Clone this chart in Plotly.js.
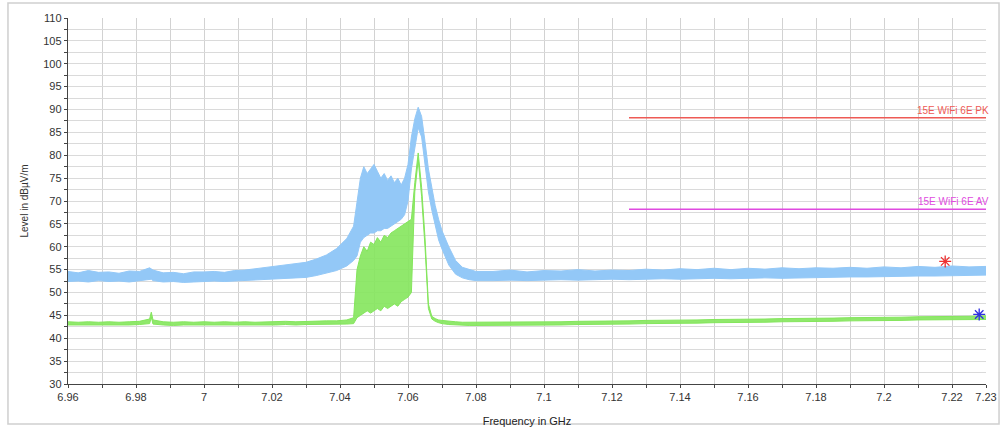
<!DOCTYPE html>
<html>
<head>
<meta charset="utf-8">
<script src="https://cdn.plot.ly/plotly-3.0.1.min.js"></script>
<style>
html,body{margin:0;padding:0;background:#fff;}
#chart{width:1002px;height:427px;}
</style>
</head>
<body>
<div id="chart"></div>
<script>
// Frequency points (GHz)
const freqGHz = [
  6.960, 6.963, 6.966, 6.969, 6.972, 6.975, 6.978, 6.981, 6.984, 6.9845, 6.985, 6.988, 6.991, 6.994, 6.997,
  7.000, 7.003, 7.006, 7.009, 7.012, 7.015, 7.018, 7.021, 7.024, 7.027, 7.030, 7.033, 7.036, 7.039, 7.042, 7.044,
  7.045, 7.046, 7.047, 7.048, 7.049, 7.050, 7.051, 7.052, 7.053, 7.054, 7.055, 7.056, 7.057, 7.058, 7.059, 7.060, 7.061,
  7.062, 7.063, 7.064, 7.065, 7.066, 7.067, 7.068, 7.069, 7.070, 7.072, 7.074, 7.076, 7.078, 7.080,
  7.085, 7.090, 7.095, 7.100, 7.105, 7.110, 7.115, 7.120, 7.125, 7.130, 7.135, 7.140, 7.145, 7.150,
  7.155, 7.160, 7.165, 7.170, 7.175, 7.180, 7.185, 7.190, 7.195, 7.200, 7.205, 7.210, 7.215, 7.220, 7.225, 7.230
];

// Peak detector trace (blue): upper and lower edges of the noise band (dBµV/m)
const peakHigh = [
  54.6, 54.3, 54.8, 54.4, 54.5, 54.2, 54.7, 54.6, 55.4, 55.2, 54.9, 54.3, 54.4, 54.1, 54.5,
  54.5, 54.6, 54.4, 54.8, 54.9, 55.2, 55.4, 55.8, 56.0, 56.3, 56.6, 57.3, 58.2, 59.6, 61.8, 64.5,
  70.0, 75.0, 77.5, 76.0, 77.0, 78.0, 76.5, 75.0, 76.0, 74.5, 75.5, 74.0, 75.0, 73.5, 75.0, 78.0, 84.0,
  88.0, 90.5, 88.5, 83.0, 77.0, 73.0, 69.0, 66.0, 63.5, 60.0, 57.0, 55.5, 55.0, 54.6,
  54.6, 54.9, 54.5, 54.8, 54.7, 55.0, 54.7, 54.9, 54.8, 55.1, 54.9, 55.2, 55.0, 55.3,
  55.0, 55.3, 55.1, 55.4, 55.2, 55.4, 55.3, 55.5, 55.3, 55.6, 55.4, 55.7, 55.5, 55.8, 55.6, 55.7
];
const peakLow = [
  52.4, 52.5, 52.3, 52.6, 52.4, 52.5, 52.3, 52.6, 52.8, 52.9, 52.6, 52.3, 52.4, 52.2, 52.3,
  52.4, 52.5, 52.4, 52.5, 52.6, 52.7, 52.8, 52.9, 53.0, 53.1, 53.3, 53.7, 54.2, 54.8, 55.8, 57.0,
  58.0, 61.0, 62.0, 62.5, 63.0, 63.0, 63.5, 63.5, 64.0, 64.0, 64.5, 65.0, 65.5, 66.0, 67.0, 70.0, 77.0,
  82.0, 86.0, 84.0, 78.0, 72.0, 68.0, 64.5, 61.5, 59.5, 56.0, 54.0, 53.2, 52.8, 52.6,
  52.6, 52.7, 52.6, 52.7, 52.8, 52.7, 52.8, 52.9, 52.8, 52.9, 53.0, 52.9, 53.0, 53.1,
  53.0, 53.1, 53.2, 53.1, 53.2, 53.3, 53.3, 53.4, 53.4, 53.5, 53.5, 53.6, 53.6, 53.7, 53.7, 53.8
];

// Average detector trace (green): upper and lower edges (dBµV/m)
const avgHigh = [
  43.6, 43.5, 43.6, 43.5, 43.6, 43.5, 43.6, 43.7, 44.2, 45.7, 44.0, 43.6, 43.5, 43.6, 43.5,
  43.6, 43.5, 43.6, 43.5, 43.6, 43.5, 43.6, 43.6, 43.7, 43.6, 43.7, 43.7, 43.8, 43.8, 44.0, 44.5,
  55.0, 58.0, 60.0, 59.0, 61.0, 60.5, 62.0, 61.0, 62.5, 62.0, 63.0, 63.5, 64.0, 64.5, 65.0, 65.5, 66.0,
  74.0, 80.5, 73.0, 62.0, 47.5, 44.8, 44.3, 44.0, 43.9, 43.7, 43.6, 43.5, 43.5, 43.5,
  43.5, 43.5, 43.5, 43.6, 43.6, 43.7, 43.7, 43.8, 43.8, 43.9, 43.9, 44.0, 44.0, 44.1,
  44.1, 44.2, 44.2, 44.3, 44.3, 44.4, 44.4, 44.5, 44.5, 44.6, 44.6, 44.7, 44.7, 44.8, 44.8, 44.9
];
const avgLow = [
  42.9, 42.9, 42.8, 42.9, 42.9, 42.8, 42.9, 43.0, 43.2, 44.6, 43.1, 42.9, 42.8, 42.9, 42.9,
  42.9, 42.8, 42.9, 42.9, 42.8, 42.9, 42.9, 42.9, 43.0, 42.9, 43.0, 43.0, 43.0, 43.1, 43.1, 43.2,
  44.5, 45.0, 45.5, 46.0, 45.5, 46.0, 46.5, 46.0, 47.0, 46.5, 47.0, 47.5, 47.0, 48.0, 48.5, 49.0, 50.0,
  72.0, 79.0, 71.0, 60.0, 46.5, 44.2, 43.7, 43.4, 43.2, 43.0, 42.9, 42.9, 42.8, 42.8,
  42.8, 42.8, 42.8, 42.9, 42.9, 43.0, 43.0, 43.1, 43.1, 43.2, 43.2, 43.3, 43.3, 43.4,
  43.4, 43.5, 43.5, 43.6, 43.6, 43.7, 43.7, 43.8, 43.8, 43.9, 43.9, 44.0, 44.0, 44.1, 44.1, 44.1
];

// Limit lines
const limitNames = ["15E WiFi 6E PK", "15E WiFi 6E AV"];
const limitStart = [7.125, 7.125];
const limitEnd = [7.23, 7.23];
const limitLevel = [88.2, 68.2];
const limitColors = ["#ee5a55", "#e04ae0"];

// Final measurement markers
const markerFreq = [7.218, 7.228];
const markerLevel = [56.8, 45.2];
const markerColors = ["#ee3030", "#3030e0"];

// Axis ticks
const xTickVals = [6.96, 6.97, 6.98, 6.99, 7.00, 7.01, 7.02, 7.03, 7.04, 7.05, 7.06, 7.07, 7.08, 7.09,
  7.10, 7.11, 7.12, 7.13, 7.14, 7.15, 7.16, 7.17, 7.18, 7.19, 7.20, 7.21, 7.22, 7.23];
const xTickText = ["6.96", "", "6.98", "", "7", "", "7.02", "", "7.04", "", "7.06", "", "7.08", "",
  "7.1", "", "7.12", "", "7.14", "", "7.16", "", "7.18", "", "7.2", "", "7.22", "7.23"];
const yTickVals = [30, 32.5, 35, 37.5, 40, 42.5, 45, 47.5, 50, 52.5, 55, 57.5, 60, 62.5, 65, 67.5, 70,
  72.5, 75, 77.5, 80, 82.5, 85, 87.5, 90, 92.5, 95, 97.5, 100, 102.5, 105, 107.5, 110];
const yTickText = ["30", "", "35", "", "40", "", "45", "", "50", "", "55", "", "60", "", "65", "", "70",
  "", "75", "", "80", "", "85", "", "90", "", "95", "", "100", "", "105", "", "110"];

const blue = "#93c8f7";
const green = "#84e65c";

const traces = [
  {x: freqGHz, y: peakLow, mode: "lines", line: {color: blue, width: 1}, hoverinfo: "skip"},
  {x: freqGHz, y: peakHigh, mode: "lines", line: {color: blue, width: 1}, fill: "tonexty", fillcolor: blue, hoverinfo: "skip"},
  {x: freqGHz, y: avgLow, mode: "lines", line: {color: green, width: 1}, hoverinfo: "skip"},
  {x: freqGHz, y: avgHigh, mode: "lines", line: {color: green, width: 1}, fill: "tonexty", fillcolor: "rgba(132,230,92,0.9)", hoverinfo: "skip"}
];
for (let i = 0; i < limitNames.length; i++) {
  traces.push({x: [limitStart[i], limitEnd[i]], y: [limitLevel[i], limitLevel[i]], mode: "lines",
    line: {color: limitColors[i], width: 1.3}, hoverinfo: "skip"});
}
for (let i = 0; i < markerFreq.length; i++) {
  traces.push({x: [markerFreq[i]], y: [markerLevel[i]], mode: "markers",
    marker: {symbol: "asterisk-open", size: 10, color: markerColors[i], line: {color: markerColors[i], width: 1.3}}, hoverinfo: "skip"});
}

const annotations = limitNames.map((name, i) => ({
  x: limitEnd[i], y: limitLevel[i], xref: "x", yref: "y", text: name, showarrow: false,
  xanchor: "right", yanchor: "bottom", xshift: 5, yshift: 0,
  font: {family: "Liberation Sans, Arial, sans-serif", size: 10, color: limitColors[i]}
}));

const layout = {
  width: 1002, height: 427,
  margin: {l: 68, r: 16, t: 18, b: 43},
  paper_bgcolor: "#ffffff", plot_bgcolor: "#ffffff",
  showlegend: false, hovermode: false,
  font: {family: "Liberation Sans, Arial, sans-serif", size: 11, color: "#333"},
  xaxis: {
    range: [6.96, 7.23], tickmode: "array", tickvals: xTickVals, ticktext: xTickText,
    showgrid: true, gridcolor: "#d2d2d2", gridwidth: 1,
    showline: true, linecolor: "#444", linewidth: 1.2,
    ticks: "outside", ticklen: 3, tickcolor: "#444",
    zeroline: false, tickfont: {size: 11, color: "#333"},
    title: {text: "Frequency in GHz", font: {size: 11, color: "#222"}, standoff: 14}
  },
  yaxis: {
    range: [30, 110], tickmode: "array", tickvals: yTickVals, ticktext: yTickText,
    showgrid: true, gridcolor: "#dadada", gridwidth: 1,
    showline: true, linecolor: "#444", linewidth: 1.2,
    ticks: "outside", ticklen: 3, tickcolor: "#444",
    zeroline: false, tickfont: {size: 11, color: "#333"},
    title: {text: "Level in dBµV/m", font: {size: 10, color: "#333"}, standoff: 12}
  },
  annotations: annotations,
  shapes: [
    {type: "rect", xref: "paper", yref: "paper", x0: -0.0654, x1: 1.0142, y0: -0.109, y1: 1.041,
     line: {color: "#cfcfcf", width: 1.5}, fillcolor: "rgba(0,0,0,0)", layer: "below"}
  ]
};

Plotly.newPlot("chart", traces, layout, {staticPlot: true, displayModeBar: false});
</script>
</body>
</html>
